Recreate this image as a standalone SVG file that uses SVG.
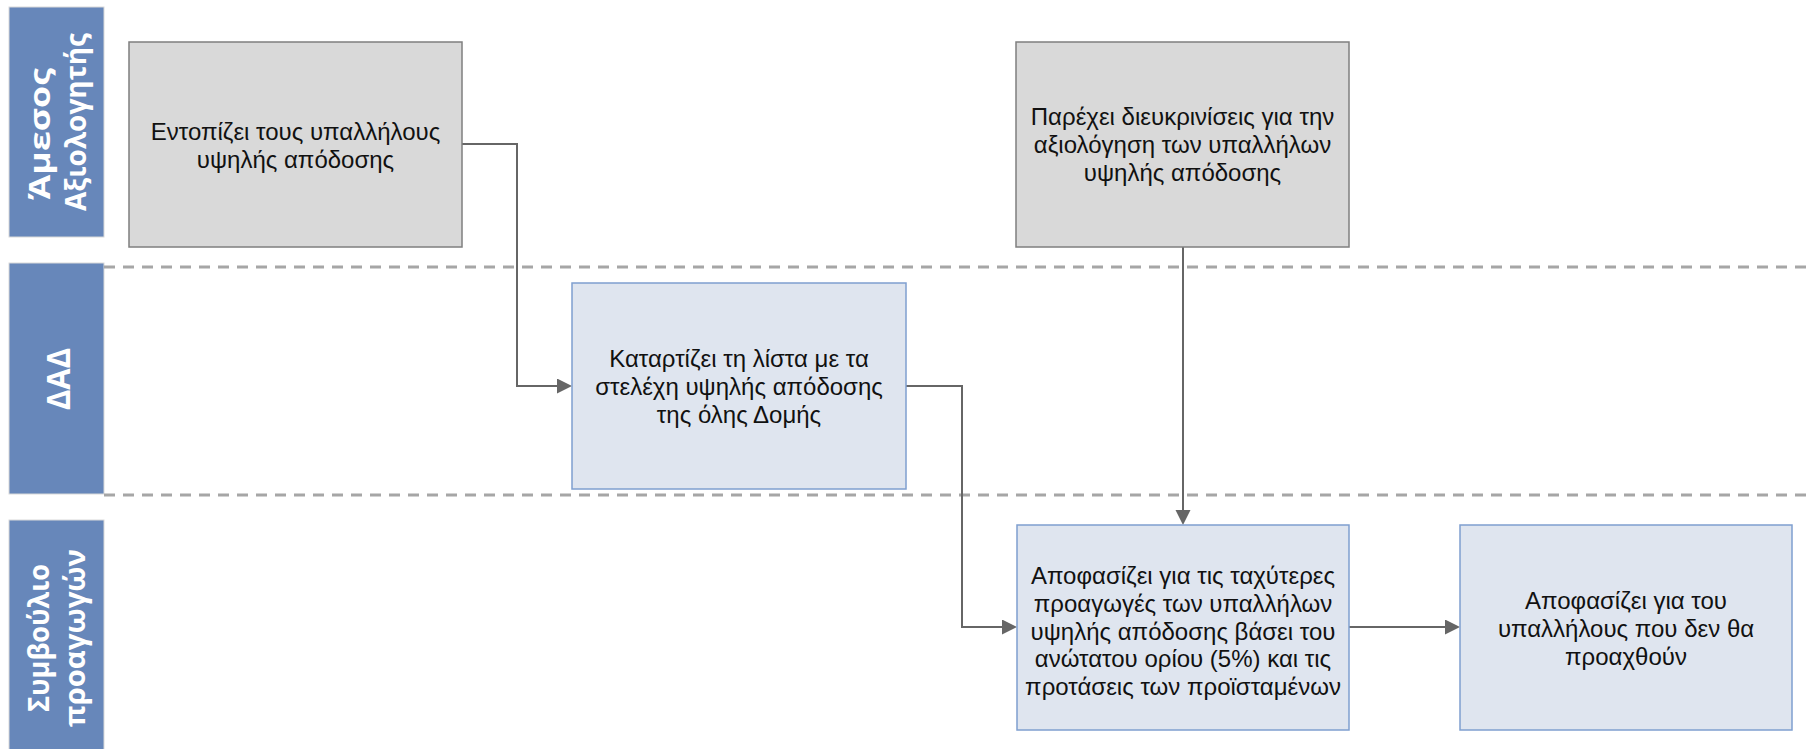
<svg xmlns="http://www.w3.org/2000/svg" width="1814" height="749" viewBox="0 0 1814 749">
<defs>
<style>
.lane{fill:#6787BA;stroke:#D9D9D9;stroke-width:1}
.lt{font-family:"Open Sans","DejaVu Sans",sans-serif;font-weight:bold;fill:#FFFFFF;text-anchor:middle}
.sep{stroke:#A6A6A6;stroke-width:3;stroke-dasharray:11 8;fill:none}
.g{fill:#D9D9D9;stroke:#7F7F7F;stroke-width:1.5}
.b{fill:#DFE5EF;stroke:#7F9FCF;stroke-width:1.5}
.t{font-family:"Liberation Sans",Arial,sans-serif;font-size:24px;fill:#111111;text-anchor:middle}
.c{fill:none;stroke:#666666;stroke-width:2;marker-end:url(#ah)}
</style>
<marker id="ah" markerUnits="userSpaceOnUse" markerWidth="16" markerHeight="16" refX="3" refY="7.5" orient="auto">
<path d="M0,0 L15,7.5 L0,15 Z" fill="#666666"/>
</marker>
</defs>
<rect width="1814" height="749" fill="#FFFFFF"/>
<g id="lanes">
<g id="lane-amesos">
<rect class="lane" x="9" y="7" width="95" height="230"/>
<text class="lt" font-size="28" textLength="132" lengthAdjust="spacingAndGlyphs" transform="translate(50,134) rotate(-90)">Άμεσος</text>
<text class="lt" font-size="28" textLength="178" lengthAdjust="spacingAndGlyphs" transform="translate(86,122) rotate(-90)">Αξιολογητής</text>
</g>
<g id="lane-dad">
<rect class="lane" x="9" y="263" width="95" height="231"/>
<text class="lt" font-size="33" textLength="62" lengthAdjust="spacingAndGlyphs" transform="translate(70,379) rotate(-90)">ΔΑΔ</text>
</g>
<g id="lane-symvoulio">
<rect class="lane" x="9" y="520" width="95" height="240"/>
<text class="lt" font-size="28" textLength="148" lengthAdjust="spacingAndGlyphs" transform="translate(49,638) rotate(-90)">Συμβούλιο</text>
<text class="lt" font-size="28" textLength="178" lengthAdjust="spacingAndGlyphs" transform="translate(85,638) rotate(-90)">προαγωγών</text>
</g>
<line class="sep" x1="104" y1="267" x2="1814" y2="267"/>
<line class="sep" x1="104" y1="495" x2="1814" y2="495"/>
</g>
<g id="connectors">
<path class="c" d="M462,144 H517 V386 H560"/>
<path class="c" d="M1183,247 V513"/>
<path class="c" d="M906,386 H962 V627 H1005"/>
<path class="c" d="M1349,627 H1448"/>
</g>
<g id="n1">
<rect class="g" x="129" y="42" width="333" height="205"/>
<text class="t" x="295.5" y="140">Εντοπίζει τους υπαλλήλους</text>
<text class="t" x="295.5" y="168">υψηλής απόδοσης</text>
</g>
<g id="n2">
<rect class="b" x="572" y="283" width="334" height="206"/>
<text class="t" x="739" y="367">Καταρτίζει τη λίστα με τα</text>
<text class="t" x="739" y="395">στελέχη υψηλής απόδοσης</text>
<text class="t" x="739" y="423">της όλης Δομής</text>
</g>
<g id="n3">
<rect class="g" x="1016" y="42" width="333" height="205"/>
<text class="t" x="1182.5" y="125">Παρέχει διευκρινίσεις για την</text>
<text class="t" x="1182.5" y="153">αξιολόγηση των υπαλλήλων</text>
<text class="t" x="1182.5" y="181">υψηλής απόδοσης</text>
</g>
<g id="n4">
<rect class="b" x="1017" y="525" width="332" height="205"/>
<text class="t" x="1183" y="584">Αποφασίζει για τις ταχύτερες</text>
<text class="t" x="1183" y="612">προαγωγές των υπαλλήλων</text>
<text class="t" x="1183" y="640">υψηλής απόδοσης βάσει του</text>
<text class="t" x="1183" y="667">ανώτατου ορίου (5%) και τις</text>
<text class="t" x="1183" y="695">προτάσεις των προϊσταμένων</text>
</g>
<g id="n5">
<rect class="b" x="1460" y="525" width="332" height="205"/>
<text class="t" x="1626" y="609">Αποφασίζει για του</text>
<text class="t" x="1626" y="637">υπαλλήλους που δεν θα</text>
<text class="t" x="1626" y="665">προαχθούν</text>
</g>
</svg>
